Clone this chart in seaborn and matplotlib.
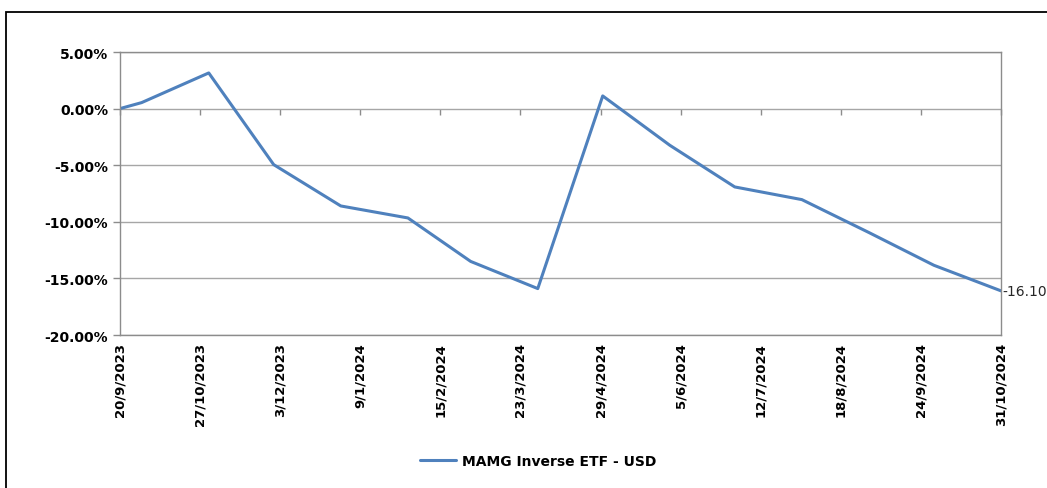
import pandas as pd
import numpy as np
import matplotlib
matplotlib.use("Agg")
import matplotlib.pyplot as plt
import matplotlib.ticker as mticker
from matplotlib.patches import Rectangle
import seaborn as sns

# data (month-end values, in %)
dates = ["2023-09-20", "2023-09-30", "2023-10-31", "2023-11-30", "2023-12-31",
         "2024-01-31", "2024-02-29", "2024-03-31", "2024-04-30", "2024-05-31",
         "2024-06-30", "2024-07-31", "2024-08-31", "2024-09-30", "2024-10-31"]
returns = [0.00, 0.53, 3.15, -4.95, -8.60,
           -9.66, -13.50, -15.90, 1.12, -3.24,
           -6.92, -8.04, -10.95, -13.84, -16.10]
series_name = "MAMG Inverse ETF - USD"
tick_labels = ["20/9/2023", "27/10/2023", "3/12/2023", "9/1/2024", "15/2/2024",
               "23/3/2024", "29/4/2024", "5/6/2024", "12/7/2024", "18/8/2024",
               "24/9/2024", "31/10/2024"]
y_ticks = [5, 0, -5, -10, -15, -20]

df = pd.DataFrame({"date": pd.to_datetime(dates), "ret": returns, "series": series_name})
tick_dates = pd.to_datetime(tick_labels, format="%d/%m/%Y")

sns.set_style("white")
plt.rcParams["font.family"] = ["DejaVu Sans"]
plt.rcParams["text.color"] = "black"
plt.rcParams["xtick.color"] = "black"
plt.rcParams["ytick.color"] = "black"

line_color = "#4f81bd"
grid_color = "#a6a6a6"
axis_color = "#8c8c8c"

fig = plt.figure(figsize=(10.47, 4.89), dpi=100)
ax = fig.add_axes([120 / 1047, 1 - 336 / 489, (1001 - 120) / 1047, (336 - 53) / 489])

sns.lineplot(data=df, x="date", y="ret", hue="series", palette=[line_color],
             linewidth=2.2, ax=ax, legend=False)

ax.set_xlim(tick_dates[0], tick_dates[-1])
ax.set_ylim(min(y_ticks), max(y_ticks))
ax.set_yticks(y_ticks)
ax.yaxis.set_major_formatter(mticker.FuncFormatter(lambda v, p: f"{v:.2f}%"))
ax.set_xticks(tick_dates)
ax.set_xticklabels(tick_labels, rotation=90, fontweight="bold", fontsize=9.5)
for lab in ax.get_yticklabels():
    lab.set_fontweight("bold")
    lab.set_fontsize(10)
ax.set_xlabel("")
ax.set_ylabel("")

ax.grid(axis="y", color=grid_color, linewidth=1)
ax.grid(axis="x", visible=False)
for sp in ax.spines.values():
    sp.set_visible(True)
    sp.set_color(axis_color)
    sp.set_linewidth(1)

ax.tick_params(axis="y", length=5, width=1, color=axis_color, labelcolor="black",
               pad=3.5, left=True)
ax.tick_params(axis="x", length=0, pad=5, labelcolor="black")

# date tick marks sit on the 0% line (axis crosses at zero)
zero_frac = (0 - min(y_ticks)) / (max(y_ticks) - min(y_ticks))
sec = ax.secondary_xaxis(zero_frac)
sec.set_xticks(tick_dates)
sec.tick_params(axis="x", direction="in", length=4, width=1, color=axis_color,
                labeltop=False, labelbottom=False)
for sp in sec.spines.values():
    sp.set_visible(False)

# end value label
last = df.iloc[-1]
ax.annotate(f"{last['ret']:.2f}%", xy=(last["date"], last["ret"]), xytext=(1, 0),
            textcoords="offset points", ha="left", va="center", fontsize=10,
            color="#262626", annotation_clip=False)

# legend
handle = plt.Line2D([], [], color=line_color, linewidth=2.2)
fig.legend([handle], [series_name], loc="center", bbox_to_anchor=(538 / 1047, 1 - 462 / 489),
           frameon=False, prop={"weight": "bold", "size": 10}, handlelength=2.6,
           handletextpad=0.4)

# outer chart border
fig.add_artist(Rectangle((6 / 1047, -0.1), 1.2, 1 - 12.5 / 489 + 0.1, transform=fig.transFigure,
                         fill=False, edgecolor="black", linewidth=1.3))

fig.savefig("out.png", dpi=100)
